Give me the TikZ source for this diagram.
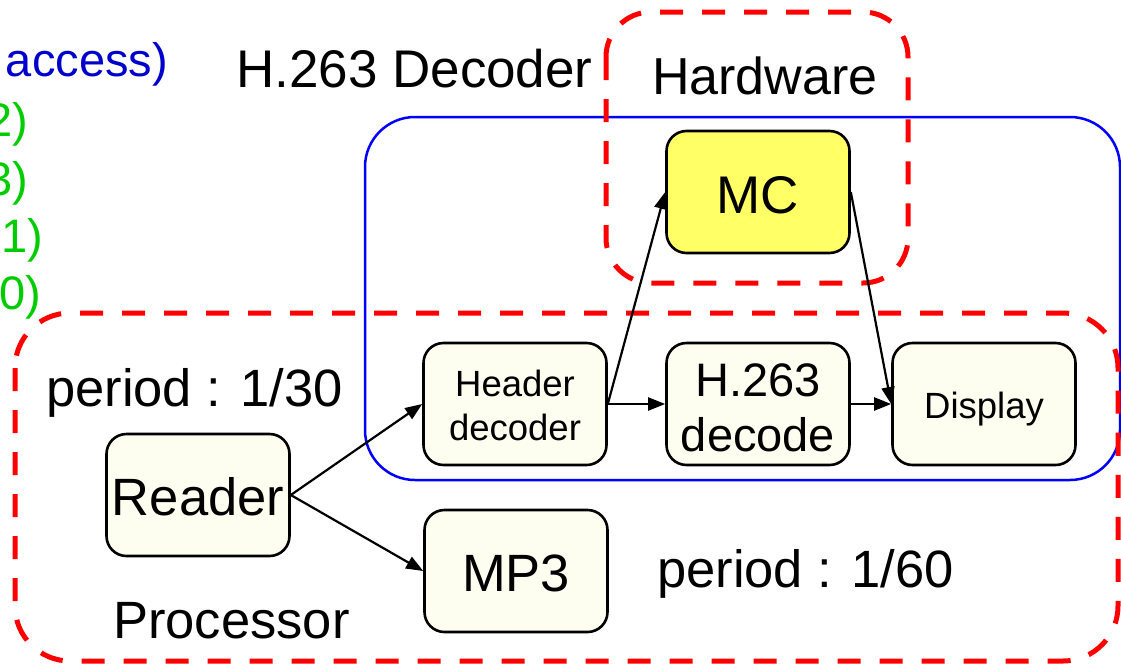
\documentclass[tikz,border=0pt]{standalone}
\usepackage{fontspec}
\setmainfont{Liberation Sans}
\usetikzlibrary{arrows.meta}

\definecolor{boxfill}{RGB}{254,254,240}
\definecolor{mcfill}{RGB}{255,255,102}
\definecolor{txtblue}{RGB}{0,0,204}
\definecolor{txtgreen}{RGB}{0,204,0}
\definecolor{regred}{RGB}{255,0,0}
\definecolor{grpblue}{RGB}{0,0,255}

\newcommand\sz[2]{\fontsize{#1}{#2}\selectfont}

\begin{document}
\begin{tikzpicture}[x=1pt,y=-1pt,
  blk/.style={draw=black, line width=2.6pt, fill=boxfill, rounded corners=20pt,
    minimum width=183pt, minimum height=122pt, align=center, inner sep=0pt},
  % single-line labels: baseline sits a fixed distance below the box centre
  oneline/.style={text height=#1+4pt, text depth=4pt},
  link/.style={line width=2.2pt, -{Triangle[length=17pt,width=13pt]}},
  region/.style={draw=regred, line width=5pt, dash pattern=on 23pt off 19pt},
  lbl/.style={anchor=base west, inner sep=0pt},
  side/.style={anchor=base east, inner sep=0pt, font=\sz{47pt}{56pt}},
]
\useasboundingbox (0,0) rectangle (1121,664);
\clip (0,0) rectangle (1121,664);

% annotations running in from the left margin
\node[side, text=txtblue] (acc) at (168,76) {access)};
\node[side, text=txtgreen] (g2) at (28,136) {2)};
\node[side, text=txtgreen] (g3) at (28,195) {3)};
\node[side, text=txtgreen] (g1) at (43,252) {1)};
\node[side, text=txtgreen] (g0) at (41,309) {0)};

% decoder group
\draw[grpblue, line width=2.5pt, rounded corners=50pt] (365,117) rectangle (1120,480);
\node[lbl, font=\sz{53pt}{60pt}] (dectitle) at (236,87) {H.263 Decoder};

% mapping regions
\draw[region, rounded corners=55pt] (15,313) rectangle (1118,661);
\draw[region, rounded corners=45pt] (606,12) rectangle (908,283);
\node[lbl, font=\sz{52pt}{60pt}] (hwtitle) at (652,94) {Hardware};
\node[lbl, font=\sz{52.5pt}{60pt}] (proctitle) at (113,638) {Processor};

% rates
\node[lbl, font=\sz{52.5pt}{60pt}] (rate30) at (46,406) {period : 1/30};
\node[lbl, font=\sz{52.5pt}{60pt}] (rate60) at (657,587) {period : 1/60};

% tasks
\node[blk, oneline=40pt, font=\sz{52.5pt}{60pt}] (reader) at (198,495) {Reader};
\node[blk, font=\sz{36.5pt}{44pt}] (hdr) at (515,404) {\rule{0pt}{30pt}Header\\decoder};
\node[blk, font=\sz{47pt}{55pt}] (dec) at (758,404) {\rule{0pt}{41pt}H.263\\decode};
\node[blk, oneline=28pt, font=\sz{36.5pt}{44pt}] (disp) at (984,404) {Display};
\node[blk, oneline=42pt, fill=mcfill, font=\sz{53pt}{60pt}] (mc) at (758,192) {MC};
\node[blk, oneline=40pt, font=\sz{52.5pt}{60pt}] (mp3) at (516,571) {MP3};

% data flow
\draw[link] (reader.east) -- (hdr.west);
\draw[link] (reader.east) -- (mp3.west);
\draw[link] (hdr.east) -- (dec.west);
\draw[link] (hdr.east) -- (mc.west);
\draw[link] (dec.east) -- (disp.west);
\draw[link] (mc.east) -- (disp.west);
\end{tikzpicture}
\end{document}
